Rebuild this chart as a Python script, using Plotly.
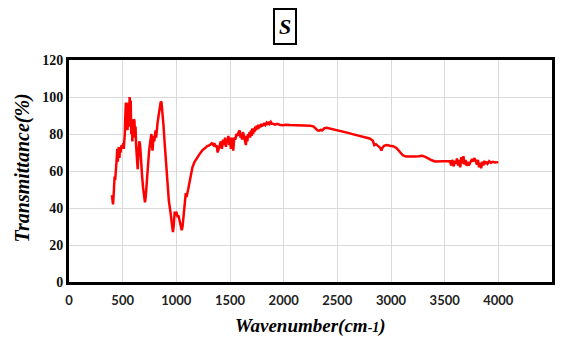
import plotly.graph_objects as go

wavenumber = [
    400, 405, 410, 415, 420, 425, 430, 435, 440, 445, 450, 455, 460, 465, 470, 475, 480, 490, 500, 505,
    510, 515, 520, 525, 530, 535, 540, 545, 550, 555, 560, 565, 570, 575, 580, 585, 590, 595, 600, 605,
    610, 615, 620, 625, 630, 635, 640, 645, 650, 655, 660, 665, 670, 680, 690, 700, 708, 715, 725, 735,
    745, 755, 762, 768, 772, 778, 782, 788, 795, 800, 806, 812, 818, 825, 835, 845, 855, 862, 870, 880,
    890, 900, 910, 920, 930, 945, 955, 962, 968, 975, 980, 985, 990, 998, 1005, 1012, 1020, 1028, 1035, 1042,
    1050, 1058, 1065, 1072, 1080, 1088, 1095, 1102, 1110, 1120, 1135, 1150, 1170, 1190, 1215, 1240, 1265, 1290, 1310, 1330,
    1345, 1355, 1365, 1375, 1385, 1395, 1405, 1415, 1425, 1435, 1445, 1455, 1462, 1470, 1478, 1485, 1492, 1500, 1508, 1515,
    1522, 1530, 1540, 1550, 1560, 1570, 1580, 1590, 1598, 1605, 1612, 1620, 1630, 1640, 1648, 1655, 1662, 1668, 1675, 1682,
    1688, 1695, 1702, 1708, 1715, 1722, 1728, 1735, 1742, 1748, 1755, 1762, 1768, 1775, 1782, 1790, 1798, 1805, 1812, 1820,
    1830, 1840, 1850, 1860, 1870, 1880, 1890, 1900, 1920, 1940, 1960, 1990, 2020,
    2060, 2100, 2150, 2200, 2250, 2280, 2300, 2315, 2330, 2345, 2360, 2380, 2400, 2450, 2500, 2550, 2600, 2650, 2700, 2750,
    2800, 2830, 2845, 2860, 2880, 2900, 2910, 2920, 2935, 2960, 2990, 3020, 3050, 3080, 3110, 3140, 3180, 3220, 3260, 3290,
    3320, 3350, 3380, 3410, 3440, 3480, 3520, 3550, 3560, 3570, 3585, 3595, 3605, 3615, 3625, 3635, 3645, 3655, 3665, 3675,
    3685, 3695, 3705, 3715, 3725, 3740, 3755, 3765, 3775, 3790, 3800, 3810, 3820, 3830, 3840, 3850, 3860, 3870, 3880, 3890,
    3900, 3915, 3930, 3950, 3970, 4000,
]

transmittance = [
    47, 44, 42, 46, 52, 57, 55, 58, 64, 67, 72, 65, 71, 73, 67, 72, 70, 74, 73, 75,
    72, 76, 80, 90, 97, 92, 95, 82, 90, 97, 84, 100, 96, 98, 80, 88, 76, 85, 82, 88,
    87, 78, 84, 74, 70, 63, 61, 68, 72, 76, 75, 72, 65, 58, 51, 46, 43, 46, 55, 63,
    70, 75, 78, 80, 76, 71, 74, 79, 76, 80, 82, 78, 84, 86, 90, 95, 97.5, 97, 93, 85,
    76, 67, 58, 50, 44, 38, 33, 29, 27, 30, 35, 38, 36, 38, 37, 35, 36, 34, 32, 29,
    28, 30, 34, 40, 45, 48, 46, 49, 50, 53, 58, 62, 65, 67, 69, 71, 72.5, 73.5, 74, 75,
    74, 75, 73, 74, 70, 72, 75, 76, 72, 77, 74, 78, 73, 77, 76, 79, 74, 78, 72, 78,
    76, 71, 78, 77, 80, 79, 81, 82, 78, 80, 77, 81, 79, 77, 74, 79, 76, 80, 78, 81,
    78, 82, 79, 83, 80, 83, 81, 84, 82, 84.5, 82.5, 85, 83, 85, 83.5, 85.5, 84, 85.5, 84.5, 86,
    85, 86, 85, 86.5, 85.5, 86.5, 85.5, 85.5, 85, 85.5, 85, 84.8, 85,
    84.8, 84.8, 84.6, 84.6, 84.4, 84, 83, 82, 81.8, 82.2, 82, 83.2, 83.4, 82.8, 82, 81.4, 80.6, 79.8, 79, 78.4,
    77.6, 76.5, 74, 74.5, 73.5, 72.5, 71, 72.5, 73.6, 74, 73.6, 73.4, 72.5, 70.5, 68.5, 67.8, 67.6, 67.8, 68, 68.2,
    67.6, 66.6, 65.8, 65.2, 65.2, 65.2, 65.2, 65.4, 63, 66, 62.5, 65.5, 64, 66.8, 63, 66, 62, 67.5, 64, 68,
    63.5, 66, 62.8, 65, 63, 64.5, 66.5, 65, 67, 65.5, 63.5, 66, 62, 64.5, 61.5, 65, 63, 65.5, 63.8, 65,
    64, 65.3, 64.5, 65, 64.6, 64.8,
]

x_ticks = [0, 500, 1000, 1500, 2000, 2500, 3000, 3500, 4000, 4500]
y_ticks = [0, 20, 40, 60, 80, 100, 120]

serif = "Liberation Serif"

fig = go.Figure()
fig.add_trace(go.Scatter(
    x=wavenumber, y=transmittance, mode="lines",
    line=dict(color="#ff0000", width=2.5),
    showlegend=False, hoverinfo="skip",
))

fig.update_layout(
    width=567, height=337,
    margin=dict(l=69, r=15, t=60, b=55),
    paper_bgcolor="white", plot_bgcolor="white",
    xaxis=dict(
        range=[0, 4500], tickvals=x_ticks, ticktext=[str(v) for v in x_ticks],
        showgrid=True, gridcolor="#d9d9d9", gridwidth=1,
        showline=True, linecolor="black", linewidth=3, mirror=True,
        ticks="", zeroline=False, ticklabelstandoff=4,
        tickfont=dict(family="Lato", size=13, color="#222", weight="bold"),
    ),
    yaxis=dict(
        range=[0, 120], tickvals=y_ticks, ticktext=[str(v) for v in y_ticks],
        showgrid=True, gridcolor="#d9d9d9", gridwidth=1,
        showline=True, linecolor="black", linewidth=3, mirror=True,
        ticks="", zeroline=False,
        tickfont=dict(family=serif, size=14, color="#111", weight="bold"),
    ),
    annotations=[
        dict(text="S", xref="paper", yref="paper", x=0.447, y=1.153,
             showarrow=False, xanchor="center", yanchor="middle",
             font=dict(family=serif, size=22, color="black", weight="bold", style="italic"),
             bordercolor="black", borderwidth=2, borderpad=4, bgcolor="white"),
        dict(text="Transmittance(%)", xref="paper", yref="paper", x=-0.097, y=0.512,
             showarrow=False, textangle=-90, xanchor="center", yanchor="middle",
             font=dict(family=serif, size=20, color="black", weight="bold", style="italic")),
        dict(text="Wavenumber(cm<span style='font-size:14px'>-1</span>)", xref="paper", yref="paper",
             x=0.499, y=-0.2, showarrow=False, xanchor="center", yanchor="middle",
             font=dict(family=serif, size=19, color="black", weight="bold", style="italic")),
    ],
)

fig.write_html("out.html")
